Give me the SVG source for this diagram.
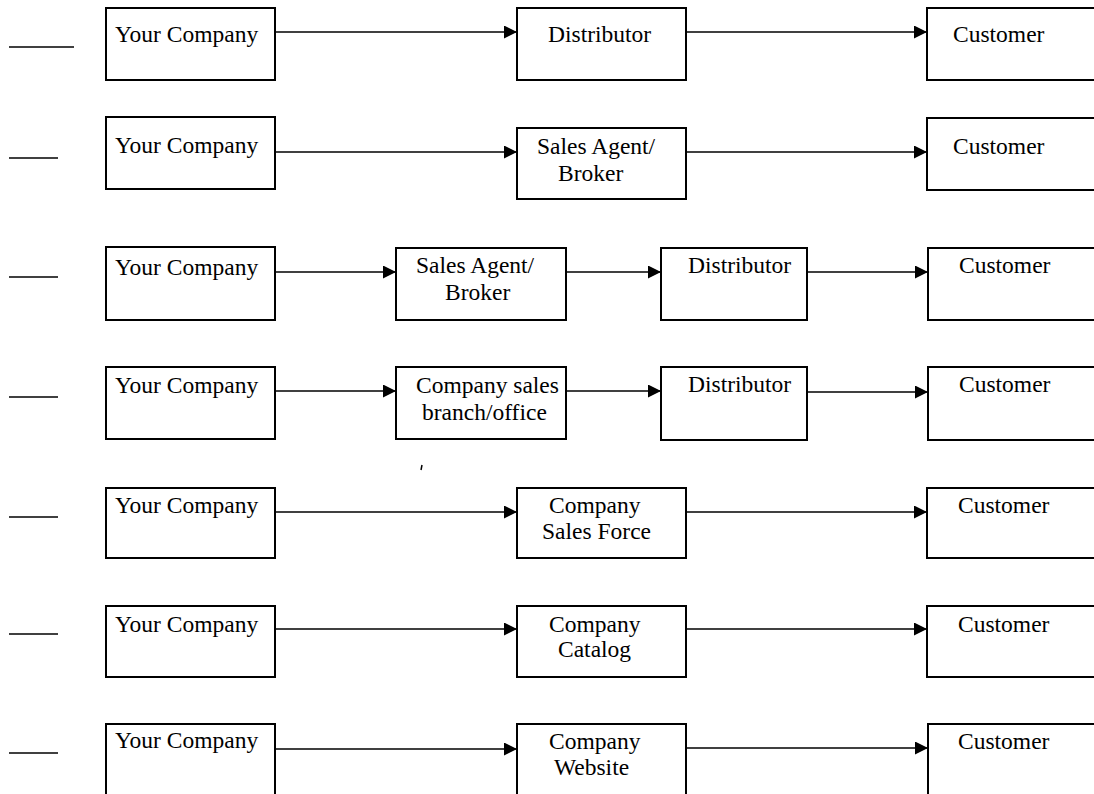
<svg xmlns="http://www.w3.org/2000/svg" width="1094" height="794" viewBox="0 0 1094 794">
<defs>
<style>
.box{fill:#fff;stroke:#000;stroke-width:2}
.t{font-family:"Liberation Serif","Times New Roman",serif;font-size:23.5px;fill:#000}
.c{stroke:#000;stroke-width:1.5;fill:none}
.blank{stroke:#000;stroke-width:1.5}
</style>
<marker id="ah" markerUnits="userSpaceOnUse" markerWidth="14" markerHeight="14" refX="13" refY="6.5" orient="auto">
<path d="M0,0 L13,6.5 L0,13 z" fill="#000"/>
</marker>
</defs>
<rect width="1094" height="794" fill="#fff"/>

<g id="blanks">
<line class="blank" x1="9" y1="47" x2="74" y2="47"/>
<line class="blank" x1="9" y1="158" x2="58" y2="158"/>
<line class="blank" x1="9" y1="277" x2="58" y2="277"/>
<line class="blank" x1="9" y1="397" x2="58" y2="397"/>
<line class="blank" x1="9" y1="517" x2="58" y2="517"/>
<line class="blank" x1="9" y1="634" x2="58" y2="634"/>
<line class="blank" x1="9" y1="753" x2="58" y2="753"/>
</g>

<g id="connectors">
<line class="c" x1="275" y1="32" x2="517" y2="32" marker-end="url(#ah)"/>
<line class="c" x1="686" y1="32" x2="927" y2="32" marker-end="url(#ah)"/>
<line class="c" x1="275" y1="152" x2="517" y2="152" marker-end="url(#ah)"/>
<line class="c" x1="686" y1="152" x2="927" y2="152" marker-end="url(#ah)"/>
<line class="c" x1="275" y1="272" x2="396" y2="272" marker-end="url(#ah)"/>
<line class="c" x1="566" y1="272" x2="661" y2="272" marker-end="url(#ah)"/>
<line class="c" x1="807" y1="272" x2="928" y2="272" marker-end="url(#ah)"/>
<line class="c" x1="275" y1="391" x2="396" y2="391" marker-end="url(#ah)"/>
<line class="c" x1="566" y1="391" x2="661" y2="391" marker-end="url(#ah)"/>
<line class="c" x1="807" y1="392" x2="928" y2="392" marker-end="url(#ah)"/>
<line class="c" x1="275" y1="512" x2="517" y2="512" marker-end="url(#ah)"/>
<line class="c" x1="686" y1="512" x2="927" y2="512" marker-end="url(#ah)"/>
<line class="c" x1="275" y1="629" x2="517" y2="629" marker-end="url(#ah)"/>
<line class="c" x1="686" y1="629" x2="927" y2="629" marker-end="url(#ah)"/>
<line class="c" x1="275" y1="749" x2="517" y2="749" marker-end="url(#ah)"/>
<line class="c" x1="686" y1="748" x2="928" y2="748" marker-end="url(#ah)"/>
</g>

<!-- Row 1 -->
<g id="r1-company"><rect class="box" x="106" y="8" width="169" height="72"/><text class="t" x="115" y="42">Your Company</text></g>
<g id="r1-distributor"><rect class="box" x="517" y="8" width="169" height="72"/><text class="t" x="548" y="42">Distributor</text></g>
<g id="r1-customer"><rect class="box" x="927" y="8" width="180" height="72"/><text class="t" x="953" y="42">Customer</text></g>

<!-- Row 2 -->
<g id="r2-company"><rect class="box" x="106" y="117" width="169" height="72"/><text class="t" x="115" y="153">Your Company</text></g>
<g id="r2-agent"><rect class="box" x="517" y="128" width="169" height="71"/><text class="t" x="537" y="154">Sales Agent/</text><text class="t" x="558" y="181">Broker</text></g>
<g id="r2-customer"><rect class="box" x="927" y="118" width="180" height="72"/><text class="t" x="953" y="154">Customer</text></g>

<!-- Row 3 -->
<g id="r3-company"><rect class="box" x="106" y="247" width="169" height="73"/><text class="t" x="115" y="275">Your Company</text></g>
<g id="r3-agent"><rect class="box" x="396" y="248" width="170" height="72"/><text class="t" x="416" y="273">Sales Agent/</text><text class="t" x="445" y="300">Broker</text></g>
<g id="r3-distributor"><rect class="box" x="661" y="248" width="146" height="72"/><text class="t" x="688" y="273">Distributor</text></g>
<g id="r3-customer"><rect class="box" x="928" y="248" width="180" height="72"/><text class="t" x="959" y="273">Customer</text></g>

<!-- Row 4 -->
<g id="r4-company"><rect class="box" x="106" y="367" width="169" height="72"/><text class="t" x="115" y="393">Your Company</text></g>
<g id="r4-branch"><rect class="box" x="396" y="367" width="170" height="72"/><text class="t" x="416" y="393">Company sales</text><text class="t" x="422" y="420">branch/office</text></g>
<g id="r4-distributor"><rect class="box" x="661" y="367" width="146" height="73"/><text class="t" x="688" y="392">Distributor</text></g>
<g id="r4-customer"><rect class="box" x="928" y="367" width="180" height="73"/><text class="t" x="959" y="392">Customer</text></g>

<line x1="422" y1="465" x2="421" y2="470" stroke="#000" stroke-width="1.5"/>

<!-- Row 5 -->
<g id="r5-company"><rect class="box" x="106" y="488" width="169" height="70"/><text class="t" x="115" y="513">Your Company</text></g>
<g id="r5-salesforce"><rect class="box" x="517" y="488" width="169" height="70"/><text class="t" x="549" y="513">Company</text><text class="t" x="542" y="539">Sales Force</text></g>
<g id="r5-customer"><rect class="box" x="927" y="488" width="180" height="70"/><text class="t" x="958" y="513">Customer</text></g>

<!-- Row 6 -->
<g id="r6-company"><rect class="box" x="106" y="606" width="169" height="71"/><text class="t" x="115" y="632">Your Company</text></g>
<g id="r6-catalog"><rect class="box" x="517" y="606" width="169" height="71"/><text class="t" x="549" y="632">Company</text><text class="t" x="558" y="657">Catalog</text></g>
<g id="r6-customer"><rect class="box" x="927" y="606" width="180" height="71"/><text class="t" x="958" y="632">Customer</text></g>

<!-- Row 7 -->
<g id="r7-company"><rect class="box" x="106" y="724" width="169" height="80"/><text class="t" x="115" y="748">Your Company</text></g>
<g id="r7-website"><rect class="box" x="517" y="724" width="169" height="80"/><text class="t" x="549" y="749">Company</text><text class="t" x="554" y="775">Website</text></g>
<g id="r7-customer"><rect class="box" x="928" y="724" width="180" height="80"/><text class="t" x="958" y="749">Customer</text></g>
</svg>
